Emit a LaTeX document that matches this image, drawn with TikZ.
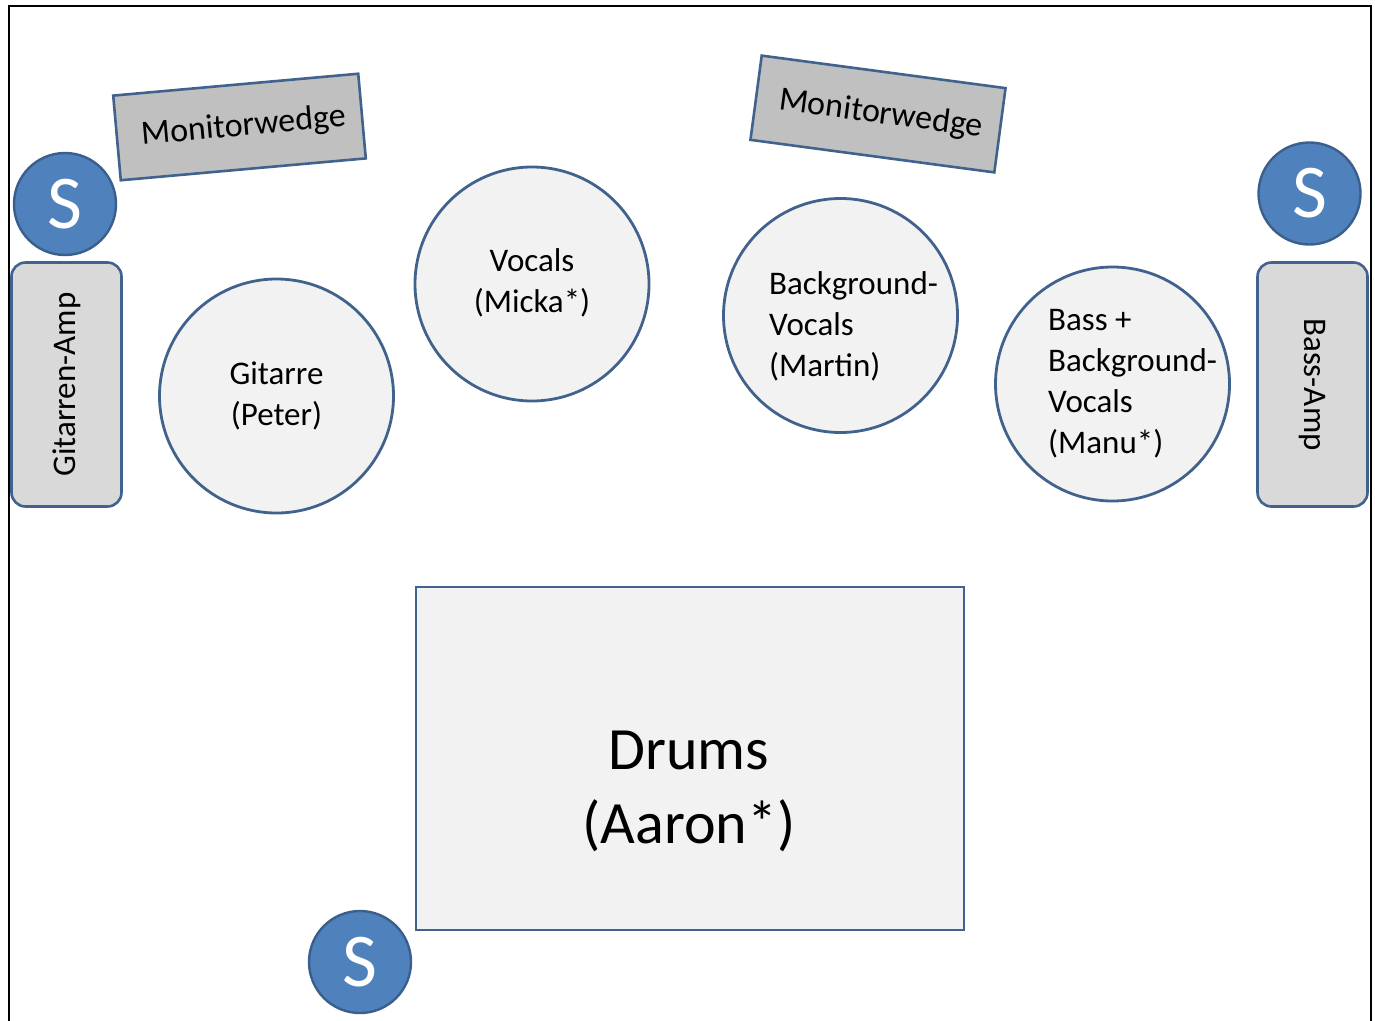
\documentclass[tikz,border=0pt]{standalone}
\usepackage{fontspec}
\setmainfont{Carlito}
\definecolor{edge}{HTML}{41628C}
\definecolor{sfill}{HTML}{4F81BD}
\definecolor{sedge}{HTML}{3A5F8C}
\definecolor{lightfill}{HTML}{F2F2F2}
\definecolor{ampfill}{HTML}{D9D9D9}
\definecolor{monfill}{HTML}{C0C0C0}
\tikzset{
  player/.style={circle, draw=edge, line width=2.8pt, fill=lightfill, minimum size=234pt, inner sep=0pt, font=\fontsize{33}{41}\selectfont},
  sbox/.style={circle, draw=sedge, line width=2.4pt, fill=sfill, minimum size=102pt, inner sep=0pt, text=white, font=\fontsize{76}{80}\selectfont},
  amp/.style={rectangle, rounded corners=14pt, draw=edge, line width=2.6pt, fill=ampfill, minimum width=110pt, minimum height=244pt, inner sep=0pt, font=\fontsize{33}{40}\selectfont},
  wedge/.style={rectangle, draw=edge, line width=2.6pt, fill=monfill, minimum width=246pt, minimum height=85pt, inner sep=0pt, font=\fontsize{34}{40}\selectfont},
  drumbox/.style={rectangle, draw=edge, line width=2.8pt, fill=lightfill, minimum width=548pt, minimum height=343pt, inner sep=0pt},
  drumtext/.style={align=center, inner sep=0pt, font=\fontsize{60}{74}\selectfont}
}
\begin{document}
\begin{tikzpicture}[x=1pt,y=-1pt]
\useasboundingbox (0,0) rectangle (1375,1020);
\draw[line width=2pt, black] (9,1040) -- (9,6) -- (1371,6) -- (1371,1040);
% monitor wedges
\node[wedge, rotate=5.1] (mw1) at (239.5,127) {\hspace*{8pt}Monitorwedge};
\node[wedge, rotate=-7.6] (mw2) at (878,114) {\hspace*{6pt}Monitorwedge};
% S boxes
\node[sbox] (s1) at (65,204) {S};
\node[sbox] (s2) at (1309.5,193.5) {S};
\node[sbox] (s3) at (360,962) {S};
% amps
\node[amp] (gamp) at (66.5,384.5) {\rotatebox{90}{Gitarren-Amp}};
\node[amp] (bamp) at (1312.5,384.5) {\rotatebox{-90}{Bass-Amp}};
% players
\node[player, align=center] (git) at (276.5,396) {Gitarre\\(Peter)};
\node[player, align=center] (voc) at (532,284) {};
\node[align=center, inner sep=0pt, font=\fontsize{33}{41}\selectfont] (voct) at (532,283) {Vocals\\(Micka*)};
\node[player] (bgv) at (840.5,315.5) {};
\node[anchor=west, align=left, font=\fontsize{33}{41}\selectfont, inner sep=0pt] (bgvt) at (769,326) {Background-\\Vocals\\(Martin)};
\node[player] (bass) at (1112.5,384) {};
\node[anchor=west, align=left, font=\fontsize{33}{41}\selectfont, inner sep=0pt] (basst) at (1048,384) {Bass +\\Background-\\Vocals\\(Manu*)};
% drums
\node[drumbox] (drums) at (690,758.5) {};
\node[drumtext] (drumst) at (689,791) {Drums\\(Aaron*)};
\end{tikzpicture}
\end{document}
